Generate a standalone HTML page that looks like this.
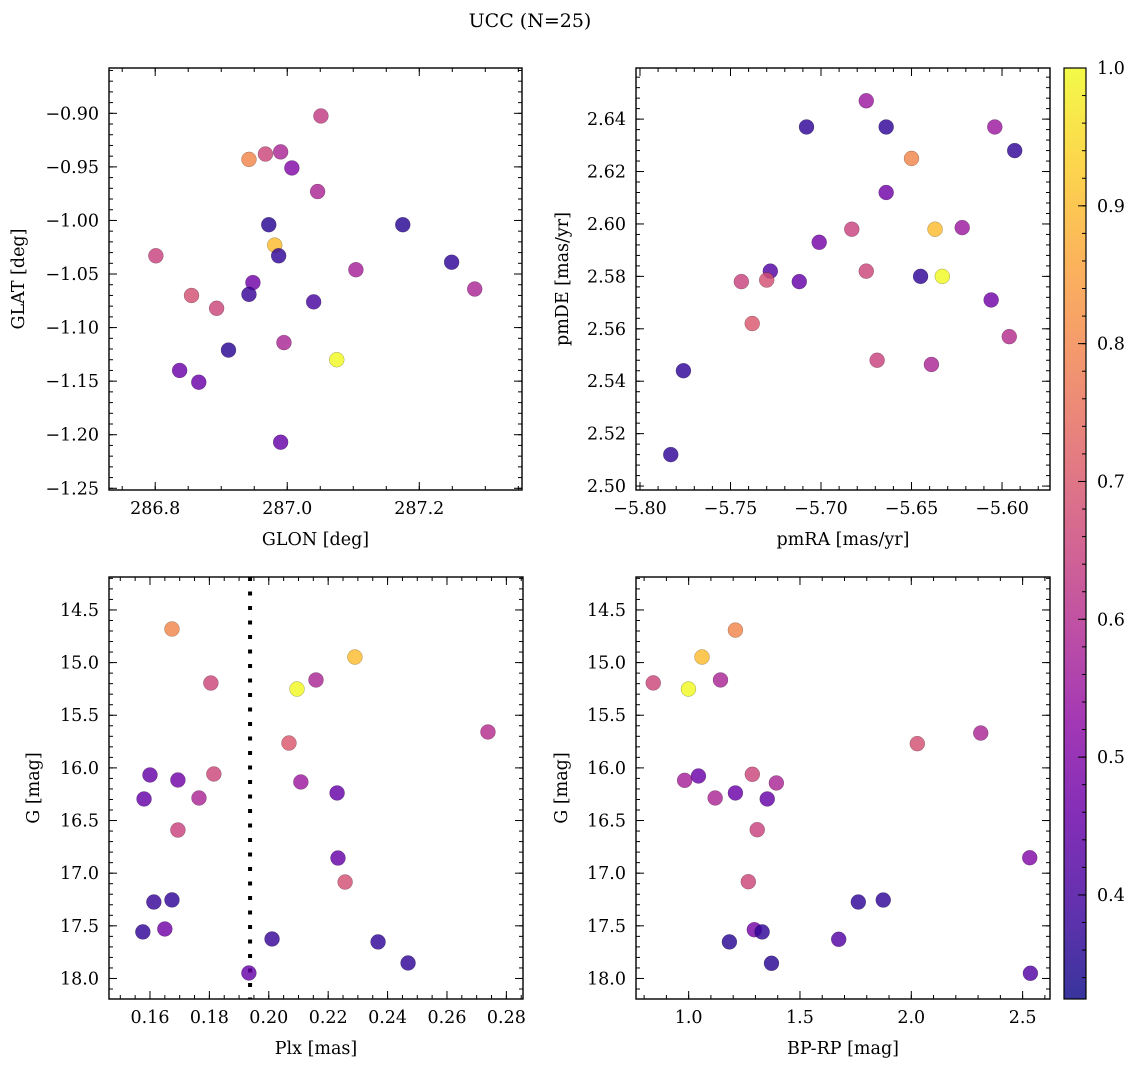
<!DOCTYPE html>
<html>
<head>
<meta charset="utf-8">
<style>
html,body{margin:0;padding:0;background:#fff;}
svg{display:block;}
text{font-family:"DejaVu Serif","Liberation Serif",serif;fill:#000;}
</style>
</head>
<body>
<svg id="fig" width="1136" height="1067" viewBox="0 0 1136 1067" xmlns="http://www.w3.org/2000/svg">
<defs>
<linearGradient id="plasmaGrad" x1="0" y1="1" x2="0" y2="0"></linearGradient>
</defs>
<text x="530" y="27" font-size="19" text-anchor="middle">UCC (N=25)</text>
</svg>
<script>
// ---- Data ----
const p1Glon = [287.051,286.942,286.967,286.990,287.007,287.046,286.972,287.175,286.981,286.987,286.801,287.249,287.104,287.284,286.855,286.948,286.942,287.040,286.893,286.995,286.911,287.075,286.837,286.866,286.990];
const p1Glat = [-0.9025,-0.943,-0.938,-0.936,-0.951,-0.973,-1.004,-1.004,-1.023,-1.033,-1.033,-1.039,-1.046,-1.064,-1.070,-1.058,-1.069,-1.076,-1.082,-1.114,-1.121,-1.130,-1.140,-1.151,-1.207];
const p1Prob = [0.63,0.80,0.66,0.58,0.50,0.58,0.36,0.36,0.90,0.37,0.65,0.37,0.57,0.58,0.68,0.47,0.38,0.40,0.66,0.58,0.36,1.00,0.46,0.46,0.45];

const p2PmRA = [-5.675,-5.664,-5.604,-5.708,-5.593,-5.650,-5.664,-5.637,-5.622,-5.683,-5.701,-5.728,-5.675,-5.744,-5.730,-5.712,-5.645,-5.633,-5.606,-5.738,-5.669,-5.639,-5.596,-5.776,-5.783];
const p2PmDE = [2.647,2.637,2.637,2.637,2.628,2.625,2.612,2.598,2.5986,2.598,2.593,2.582,2.582,2.578,2.5786,2.578,2.580,2.580,2.571,2.562,2.548,2.5464,2.557,2.544,2.512];
const p2Prob = [0.55,0.37,0.55,0.37,0.37,0.80,0.47,0.90,0.55,0.65,0.48,0.42,0.66,0.65,0.68,0.45,0.37,1.00,0.47,0.70,0.65,0.58,0.60,0.37,0.37];

const p3Plx = [0.1674,0.229,0.2095,0.1805,0.2159,0.2738,0.2068,0.160,0.1815,0.1694,0.2108,0.158,0.1765,0.223,0.1694,0.2233,0.2257,0.1613,0.1674,0.165,0.1576,0.2011,0.2368,0.2469,0.1933];
const p3G = [14.681,14.947,15.251,15.194,15.165,15.659,15.764,16.067,16.058,16.115,16.134,16.295,16.286,16.238,16.590,16.856,17.084,17.274,17.254,17.530,17.558,17.625,17.653,17.853,17.948];
const p3Prob = [0.80,0.90,1.00,0.66,0.58,0.60,0.70,0.45,0.66,0.47,0.55,0.45,0.58,0.45,0.65,0.45,0.68,0.38,0.37,0.47,0.37,0.38,0.37,0.37,0.45];
const plxLimit = 0.1937;

const p4BpRp = [1.210,1.060,0.841,0.999,1.143,2.027,2.312,0.982,1.044,1.286,1.394,1.119,1.210,1.353,1.308,2.532,1.268,1.762,1.874,1.295,1.330,1.183,1.674,1.372,2.535];
const p4G = [14.691,14.947,15.193,15.251,15.165,15.770,15.669,16.118,16.077,16.061,16.143,16.286,16.238,16.295,16.587,16.853,17.081,17.274,17.255,17.537,17.558,17.653,17.628,17.856,17.951];
const p4Prob = [0.80,0.90,0.66,1.00,0.58,0.68,0.58,0.57,0.46,0.66,0.58,0.58,0.46,0.45,0.65,0.50,0.66,0.37,0.37,0.48,0.37,0.36,0.42,0.36,0.42];

const cbarTicks = [0.4,0.5,0.6,0.7,0.8,0.9,1.0];
const probMin = 0.3245, probMax = 1.0;

// ---- helpers ----
const NS = "http://www.w3.org/2000/svg";
const svg = document.getElementById("fig");
function mk(tag, attrs, parent){
  const e = document.createElementNS(NS, tag);
  for (const k in attrs) e.setAttribute(k, attrs[k]);
  (parent||svg).appendChild(e);
  return e;
}
const plasmaStops = [[13,8,135],[65,4,157],[106,0,168],[143,13,164],[177,42,144],[204,71,120],[225,100,98],[242,132,75],[252,166,54],[252,206,37],[240,249,33]];
function plasma(t){
  t = Math.max(0, Math.min(1, t));
  const f = t*10, i = Math.min(9, Math.floor(f)), r = f - i;
  const a = plasmaStops[i], b = plasmaStops[i+1];
  return "rgb(" + [0,1,2].map(k => Math.round(a[k] + (b[k]-a[k])*r)).join(",") + ")";
}
function colorOf(p){ return plasma((p - probMin)/(probMax - probMin)); }
function fmt(v, d){ return v.toFixed(d).replace("-", "\u2212"); }

const grad = document.getElementById("plasmaGrad");
for (let i = 0; i <= 10; i++){
  const s = document.createElementNS(NS, "stop");
  s.setAttribute("offset", (i*10) + "%");
  s.setAttribute("stop-color", plasma(i/10));
  grad.appendChild(s);
}

function ticksFor(min, max, step){
  const lo = Math.min(min,max), hi = Math.max(min,max);
  const out = [];
  let k = Math.ceil(lo/step - 1e-6);
  while (k*step <= hi + 1e-9){ out.push(+(k*step).toFixed(6)); k++; }
  return out;
}

function panel(cfg){
  const g = mk("g", {});
  
  
  const X = v => cfg.x0 + (v - cfg.xd[0])/(cfg.xd[1]-cfg.xd[0])*(cfg.x1-cfg.x0);
  const Y = v => cfg.y0 + (v - cfg.yd[0])/(cfg.yd[1]-cfg.yd[0])*(cfg.y1-cfg.y0);
  const tg = mk("g", {stroke:"#000","stroke-width":1}, g);
  
  
  ticksFor(cfg.xd[0], cfg.xd[1], cfg.xMinor).forEach(v => {
    const x = X(v);
    mk("line", {x1:x, x2:x, y1:cfg.y1, y2:cfg.y1-4}, tg);
    mk("line", {x1:x, x2:x, y1:cfg.y0, y2:cfg.y0+4}, tg);
  });
  ticksFor(cfg.yd[0], cfg.yd[1], cfg.yMinor).forEach(v => {
    const y = Y(v);
    mk("line", {x1:cfg.x0, x2:cfg.x0+4, y1:y, y2:y}, tg);
    mk("line", {x1:cfg.x1, x2:cfg.x1-4, y1:y, y2:y}, tg);
  });
  ticksFor(cfg.xd[0], cfg.xd[1], cfg.xMajor).forEach(v => {
    const x = X(v);
    mk("line", {x1:x, x2:x, y1:cfg.y1, y2:cfg.y1-8}, tg);
    mk("line", {x1:x, x2:x, y1:cfg.y0, y2:cfg.y0+8}, tg);
    const t = mk("text", {x:x, y:cfg.y1+24, "font-size":17.5, "text-anchor":"middle"}, g);
    t.textContent = fmt(v, cfg.xDec);
    
    
  });
  ticksFor(cfg.yd[0], cfg.yd[1], cfg.yMajor).forEach(v => {
    const y = Y(v);
    mk("line", {x1:cfg.x0, x2:cfg.x0+8, y1:y, y2:y}, tg);
    mk("line", {x1:cfg.x1, x2:cfg.x1-8, y1:y, y2:y}, tg);
    const t = mk("text", {x:cfg.x0-10, y:y+6, "font-size":17.5, "text-anchor":"end"}, g);
    t.textContent = fmt(v, cfg.yDec);
    
    
  });
  if (cfg.vline !== undefined){
    const l = mk("line", {x1:X(cfg.vline), x2:X(cfg.vline), y1:cfg.y0, y2:cfg.y1, stroke:"#000", "stroke-width":4, "stroke-dasharray":"4 10.5"}, g);
    
    
  }
  for (let i = 0; i < cfg.xs.length; i++){
    const c = mk("circle", {cx:X(cfg.xs[i]), cy:Y(cfg.ys[i]), r:7.5, fill:colorOf(cfg.cs[i]), "fill-opacity":0.82, stroke:"rgba(0,0,0,0.35)", "stroke-width":0.5}, g);
    
    
  }
  const f = mk("rect", {x:cfg.x0, y:cfg.y0, width:cfg.x1-cfg.x0, height:cfg.y1-cfg.y0, fill:"none", stroke:"#000", "stroke-width":1.4}, g);
  
  
  const xl = mk("text", {x:(cfg.x0+cfg.x1)/2, y:cfg.y1+55, "font-size":17.5, "text-anchor":"middle"}, g);
  xl.textContent = cfg.xLabel;
  
  
  const yc = (cfg.y0+cfg.y1)/2;
  const yl = mk("text", {x:cfg.yLabelX, y:yc, "font-size":17.5, "text-anchor":"middle", transform:"rotate(-90 " + cfg.yLabelX + " " + yc + ")"}, g);
  yl.textContent = cfg.yLabel;
  
  
}

panel({name:"glon-glat-panel", x0:109, x1:522, y0:68, y1:490, xd:[286.730,287.3556], yd:[-0.8577,-1.2516],
  xMajor:0.2, xMinor:0.05, yMajor:0.05, yMinor:0.01, xDec:1, yDec:2,
  xs:p1Glon, ys:p1Glat, cs:p1Prob, xLabel:"GLON [deg]", yLabel:"GLAT [deg]", yLabelX:24});
panel({name:"pm-panel", x0:636, x1:1050, y0:68, y1:490, xd:[-5.8022,-5.5735], yd:[2.6595,2.4985],
  xMajor:0.05, xMinor:0.01, yMajor:0.02, yMinor:0.004, xDec:2, yDec:2,
  xs:p2PmRA, ys:p2PmDE, cs:p2Prob, xLabel:"pmRA [mas/yr]", yLabel:"pmDE [mas/yr]", yLabelX:568});
panel({name:"plx-g-panel", x0:109, x1:523, y0:577, y1:999, xd:[0.1462,0.2856], yd:[14.187,18.195],
  xMajor:0.02, xMinor:0.005, yMajor:0.5, yMinor:0.1, xDec:2, yDec:1,
  xs:p3Plx, ys:p3G, cs:p3Prob, xLabel:"Plx [mas]", yLabel:"G [mag]", yLabelX:39, vline:plxLimit});
panel({name:"cmd-panel", x0:636, x1:1050, y0:577, y1:999, xd:[0.7635,2.623], yd:[14.187,18.195],
  xMajor:0.5, xMinor:0.1, yMajor:0.5, yMinor:0.1, xDec:1, yDec:1,
  xs:p4BpRp, ys:p4G, cs:p4Prob, xLabel:"BP-RP [mag]", yLabel:"G [mag]", yLabelX:567});

(function(){
  const cx0 = 1064, cx1 = 1086, cy0 = 68, cy1 = 999;
  const CY = v => cy1 - (v - probMin)/(probMax - probMin)*(cy1 - cy0);
  const g = mk("g", {});
  
  
  const r = mk("rect", {x:cx0, y:cy0, width:cx1-cx0, height:cy1-cy0, fill:"url(#plasmaGrad)", "fill-opacity":0.82}, g);
  
  
  ticksFor(probMin, probMax, 0.02).forEach(v => {
    mk("line", {x1:cx1, x2:cx1-4, y1:CY(v), y2:CY(v), stroke:"#000", "stroke-width":1}, g);
  });
  cbarTicks.forEach(v => {
    const y = CY(v);
    mk("line", {x1:cx1, x2:cx1-8, y1:y, y2:y, stroke:"#000", "stroke-width":1}, g);
    const t = mk("text", {x:cx1+11, y:y+6, "font-size":17.5, "text-anchor":"start"}, g);
    t.textContent = v.toFixed(1);
    
    
  });
  const f = mk("rect", {x:cx0, y:cy0, width:cx1-cx0, height:cy1-cy0, fill:"none", stroke:"#000", "stroke-width":1.2}, g);
  
  
})();
</script>
</body>
</html>
